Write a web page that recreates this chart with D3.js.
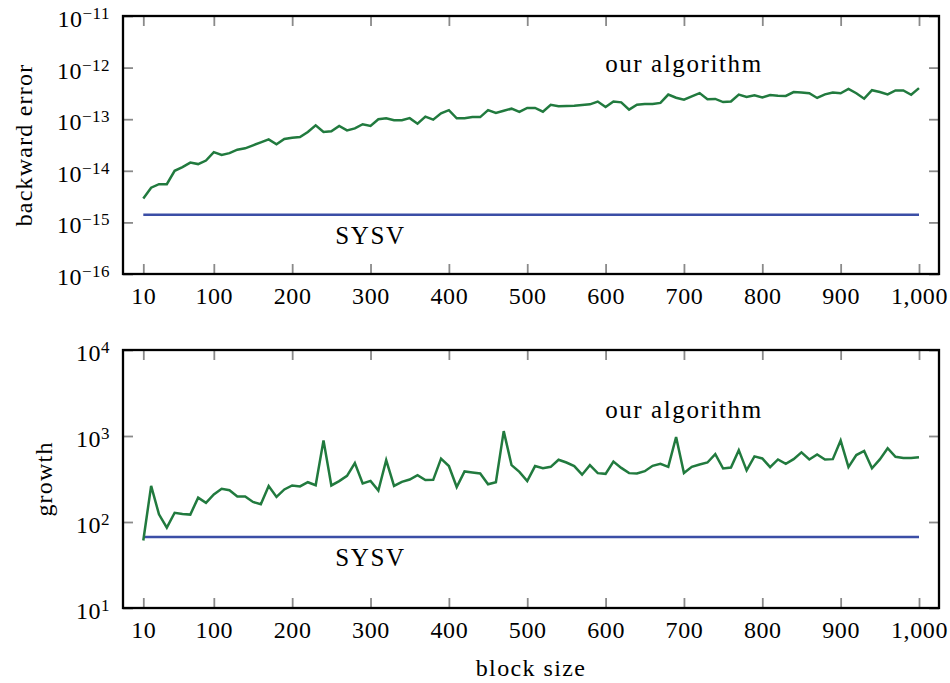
<!DOCTYPE html>
<html><head><meta charset="utf-8">
<script src="https://cdn.jsdelivr.net/npm/d3@7"></script>
<style>
body{margin:0;background:#fff}
text{font-family:"Liberation Serif","Times New Roman",serif;fill:#000}
</style>
</head><body>
<svg id="c" width="950" height="683"></svg>
<script>
// ---------- data ----------
const blockSize = [10,20,30,40,50,60,70,80,90,100,110,120,130,140,150,160,170,180,190,200,
210,220,230,240,250,260,270,280,290,300,310,320,330,340,350,360,370,380,390,400,
410,420,430,440,450,460,470,480,490,500,510,520,530,540,550,560,570,580,590,600,
610,620,630,640,650,660,670,680,690,700,710,720,730,740,750,760,770,780,790,800,
810,820,830,840,850,860,870,880,890,900,910,920,930,940,950,960,970,980,990,1000];

const errOurs = [2.9e-15,4.7e-15,5.5e-15,5.5e-15,1.0e-14,1.18e-14,1.44e-14,1.35e-14,1.58e-14,2.3e-14,
2.03e-14,2.2e-14,2.57e-14,2.73e-14,3.12e-14,3.56e-14,4.07e-14,3.26e-14,4.13e-14,4.39e-14,
4.52e-14,5.65e-14,7.6e-14,5.65e-14,5.82e-14,7.4e-14,6.08e-14,6.65e-14,8.0e-14,7.38e-14,
9.95e-14,1.04e-13,9.55e-14,9.55e-14,1.05e-13,8.2e-14,1.12e-13,9.8e-14,1.3e-13,1.5e-13,
1.04e-13,1.04e-13,1.1e-13,1.1e-13,1.5e-13,1.32e-13,1.46e-13,1.6e-13,1.38e-13,1.65e-13,
1.65e-13,1.4e-13,1.9e-13,1.78e-13,1.8e-13,1.83e-13,1.88e-13,1.94e-13,2.2e-13,1.72e-13,
2.2e-13,2.12e-13,1.53e-13,1.91e-13,1.97e-13,1.97e-13,2.07e-13,3.0e-13,2.61e-13,2.39e-13,
2.78e-13,3.2e-13,2.43e-13,2.47e-13,2.15e-13,2.2e-13,3.0e-13,2.69e-13,2.9e-13,2.65e-13,
2.94e-13,2.85e-13,2.82e-13,3.35e-13,3.3e-13,3.18e-13,2.58e-13,3.03e-13,3.3e-13,3.18e-13,
3.85e-13,3.18e-13,2.5e-13,3.65e-13,3.37e-13,3.03e-13,3.6e-13,3.6e-13,2.98e-13,4.0e-13];

const growthOurs = [61,263,123,86,128,124,122,192,167,209,
243,234,198,198,171,161,262,196,239,266,
259,290,268,890,266,299,344,485,281,301,
232,525,263,293,312,351,307,309,545,447,
255,387,377,367,275,290,1140,458,383,299,
447,423,438,530,492,447,355,458,370,363,
505,426,370,367,390,450,474,438,975,372,
438,467,492,615,419,430,685,398,580,548,
434,534,474,538,645,534,610,534,538,885,
435,600,670,422,534,720,573,555,555,566];

const sysvX = [10, 1000];
const errSysv = [1.41e-15, 1.41e-15];
const growthSysv = [67, 67];

const xTicks = [10,100,200,300,400,500,600,700,800,900,1000];
const errTickExp = [-16,-15,-14,-13,-12,-11];
const growthTickExp = [1,2,3,4];

// ---------- layout ----------
const svg = d3.select("#c");
const frameL = 123, frameR = 939;
const x = d3.scaleLinear().domain([10,1000]).range([143.3,919]);
const green = "#217a3e", blue = "#3b4ea6", tickGray = "#8a8a8a";

function panel(opts){
  const {top, bottom, y, expTicks, ours, sysv, ylabel, ylabelX, oursLabel, sysvLabel} = opts;
  const g = svg.append("g");

  const axB = g.append("g").attr("transform",`translate(0,${bottom})`)
    .call(d3.axisBottom(x).tickValues(xTicks).tickSize(-10).tickPadding(13).tickFormat(d3.format(",")));
  const axT = g.append("g").attr("transform",`translate(0,${top})`)
    .call(d3.axisTop(x).tickValues(xTicks).tickSize(-10).tickFormat(""));
  const yv = expTicks.map(e=>Math.pow(10,e));
  const axL = g.append("g").attr("transform",`translate(${frameL},0)`)
    .call(d3.axisLeft(y).tickValues(yv).tickSize(-10).tickFormat(""));
  const axR = g.append("g").attr("transform",`translate(${frameR},0)`)
    .call(d3.axisRight(y).tickValues(yv).tickSize(-10).tickFormat(""));
  [axB,axT,axL,axR].forEach(a=>{
    a.select(".domain").remove();
    a.selectAll(".tick line").attr("stroke",tickGray).attr("stroke-width",1.8);
  });
  axB.selectAll(".tick text").attr("font-size",24).attr("fill","#000").attr("letter-spacing",0.6)
     .style("font-family",'"Liberation Serif","Times New Roman",serif');

  expTicks.forEach(e=>{
    const ty = y(Math.pow(10,e));
    const t = g.append("text").attr("x",110).attr("y",ty+11).attr("text-anchor","end");
    t.append("tspan").attr("font-size",24).attr("letter-spacing",0.5).text("10");
    t.append("tspan").attr("font-size",17).attr("dy",-8).attr("letter-spacing",0.5).text(String(e).replace("-","\u2212"));
  });

  const line = d3.line().x(d=>x(d[0])).y(d=>y(d[1]));
  g.append("path").datum(sysvX.map((v,i)=>[v,sysv[i]])).attr("d",line)
    .attr("fill","none").attr("stroke",blue).attr("stroke-width",2.5);
  g.append("path").datum(blockSize.map((v,i)=>[v,ours[i]])).attr("d",line)
    .attr("fill","none").attr("stroke",green).attr("stroke-width",2.5).attr("stroke-linejoin","miter");

  g.append("rect").attr("x",frameL).attr("y",top).attr("width",frameR-frameL).attr("height",bottom-top)
    .attr("fill","none").attr("stroke","#000").attr("stroke-width",2.3);

  g.append("text").attr("x",x(700)).attr("y",oursLabel).attr("text-anchor","middle")
    .attr("font-size",25).attr("letter-spacing",1.6).text("our algorithm");
  g.append("text").attr("x",x(300)).attr("y",sysvLabel).attr("text-anchor","middle")
    .attr("font-size",25).attr("letter-spacing",1.6).text("SYSV");

  g.append("text").attr("transform",`translate(${ylabelX},${(top+bottom)/2}) rotate(-90)`)
    .attr("text-anchor","middle").attr("font-size",24).attr("letter-spacing",1.2).text(ylabel);
}

panel({top:16, bottom:274,
  y: d3.scaleLog().domain([1e-16,1e-11]).range([274,16]),
  expTicks: errTickExp, ours: errOurs, sysv: errSysv,
  ylabel:"backward error", ylabelX:32, oursLabel:72, sysvLabel:244});

panel({top:350, bottom:608,
  y: d3.scaleLog().domain([10,1e4]).range([608,350]),
  expTicks: growthTickExp, ours: growthOurs, sysv: growthSysv,
  ylabel:"growth", ylabelX:52, oursLabel:418, sysvLabel:566});

svg.append("text").attr("x",(frameL+frameR)/2).attr("y",676).attr("text-anchor","middle")
  .attr("font-size",24).attr("letter-spacing",1.4).text("block size");
</script>
</body></html>
